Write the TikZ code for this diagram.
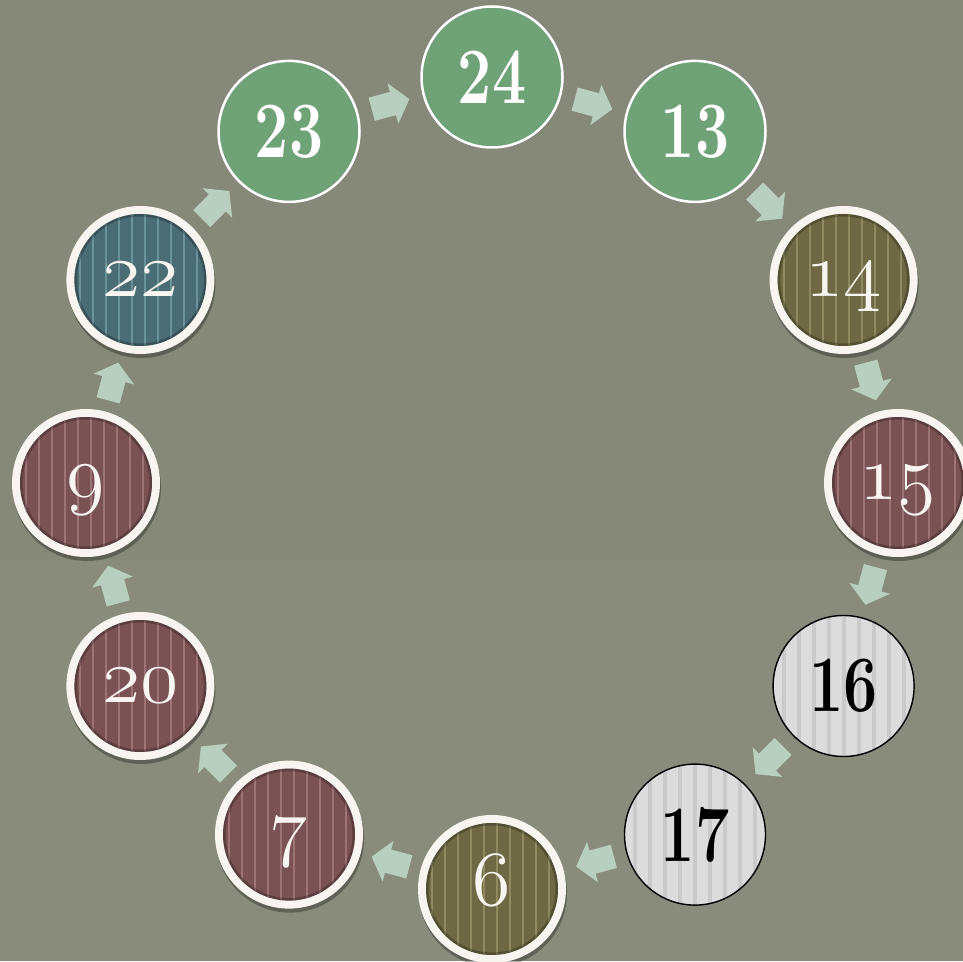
\RequirePackage{fix-cm}
\documentclass[tikz,border=0pt]{standalone}
\usetikzlibrary{shadows,calc}
\definecolor{bgc}{HTML}{868879}
\definecolor{bgl}{HTML}{898C7C}
\definecolor{grn}{HTML}{6FA277}
\definecolor{oli}{HTML}{6E6944}
\definecolor{olis}{HTML}{8F8A62}
\definecolor{mar}{HTML}{7A5254}
\definecolor{mars}{HTML}{9C7476}
\definecolor{tea}{HTML}{4A6C74}
\definecolor{teas}{HTML}{6C939A}
\definecolor{gry}{HTML}{DCDCDC}
\definecolor{grys}{HTML}{CACACA}
\definecolor{arr}{HTML}{B8CFBF}
\definecolor{rw}{HTML}{F8F5F0}
\newcommand\bnum[1]{\scalebox{0.76}[1]{\fontsize{80}{80}\selectfont\bfseries #1}}
\newcommand\onum[1]{{\fontsize{78}{78}\usefont{OML}{cmm}{m}{it}\smash{#1}\vphantom{0}}}
\newcommand\blockarrowpic{\tikz\fill[arr] (-19pt,-12pt) -- (3pt,-12pt) -- (3pt,-21pt) -- (20pt,0pt) -- (3pt,21pt) -- (3pt,12pt) -- (-19pt,12pt) -- cycle;}
\tikzset{
  plain/.style={circle, inner sep=0pt, minimum size=141pt, line width=2.5pt},
  gnode/.style={plain, fill=grn, draw=white, text=white},
  wnode/.style={plain, fill=gry, draw=black, line width=1.4pt, text=black,
    path picture={
      \foreach \dx in {-60,-45,...,60}{
        \fill[grys] ([xshift=\dx pt-2pt]path picture bounding box.south) rectangle ([xshift=\dx pt+2pt]path picture bounding box.north);}
    }},
  snode/.style 2 args={circle, inner sep=0pt, minimum size=148pt, fill=rw, text=rw,
    drop shadow={shadow xshift=1pt, shadow yshift=-4pt, opacity=.3, fill=black},
    path picture={
      \fill[#1] (path picture bounding box.center) circle (66pt);
      \begin{scope}
        \clip (path picture bounding box.center) circle (66pt);
        \foreach \dx in {-60,-47,...,60}{
          \draw[#2, line width=1.8pt] ([xshift=\dx pt]path picture bounding box.south) -- ([xshift=\dx pt]path picture bounding box.north);}
        \draw[black, opacity=.25, line width=5pt] (path picture bounding box.center) circle (66pt);
      \end{scope}
    }},
  arrowon/.style={midway, sloped, allow upside down, inner sep=0pt}
}
\begin{document}
\begin{tikzpicture}[x=1pt,y=1pt]
\useasboundingbox (0,0) rectangle (963,961);
\fill[bgc] (0,0) rectangle (963,961);
\fill[bgl] (0,0) rectangle (963,401);
\begin{scope}[shift={(492,478)}]
\node[gnode] (n24) at (90:406pt) {\bnum{24}};
\node[gnode] (n13) at (60:406pt) {\bnum{13}};
\node[snode={oli}{olis}] (n14) at (30:406pt) {\onum{14}};
\node[snode={mar}{mars}] (n15) at (0:406pt) {\onum{15}};
\node[wnode] (n16) at (-30:406pt) {\bnum{16}};
\node[wnode] (n17) at (-60:406pt) {\bnum{17}};
\node[snode={oli}{olis}] (n6) at (-90:406pt) {\onum{6}};
\node[snode={mar}{mars}] (n7) at (-120:406pt) {\onum{7}};
\node[snode={mar}{mars}] (n20) at (-150:406pt) {\onum{20}};
\node[snode={mar}{mars}] (n9) at (180:406pt) {\onum{9}};
\node[snode={tea}{teas}] (n22) at (150:406pt) {\onum{22}};
\node[gnode] (n23) at (120:406pt) {\bnum{23}};
\end{scope}
\foreach \a/\b in {n23/n24,n24/n13,n13/n14,n14/n15,n15/n16,n16/n17,n17/n6,n6/n7,n7/n20,n20/n9,n9/n22,n22/n23}
  \path (\a) -- (\b) node[arrowon] {\blockarrowpic};
\end{tikzpicture}
\end{document}
